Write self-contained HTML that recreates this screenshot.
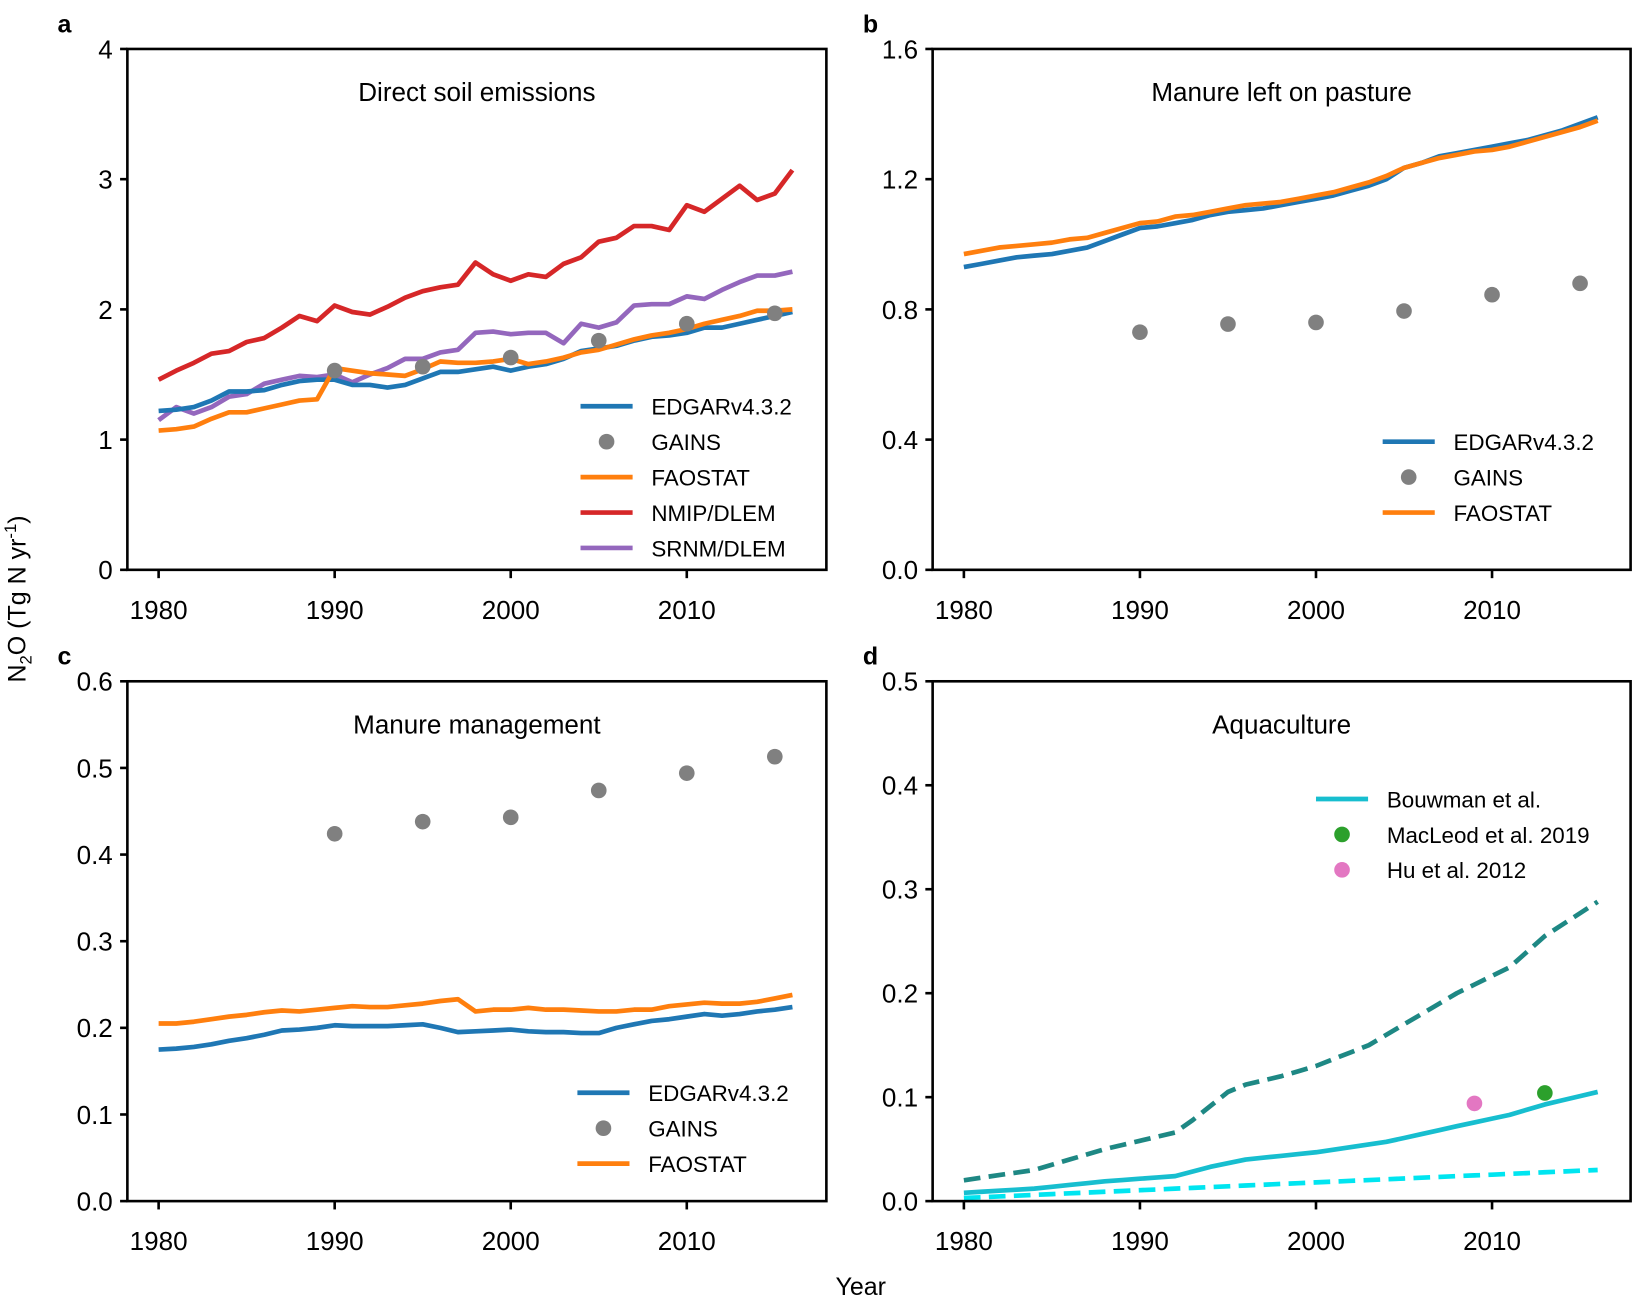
<!DOCTYPE html>
<html><head><meta charset="utf-8"><style>
html,body{margin:0;padding:0;background:#fff}
svg{display:block;font-family:"Liberation Sans",Arial,sans-serif}
</style></head><body>
<svg id="s" width="1634" height="1298" viewBox="0 0 1568 1246" xmlns="http://www.w3.org/2000/svg"></svg>
<script>
const S=document.getElementById('s');let h='';
function interp(kp){const out=[];for(let y=1980;y<=2016;y++){for(let i=0;i<kp.length-1;i++){const[a,va]=kp[i],[b,vb]=kp[i+1];if(y>=a&&y<=b){out.push(va+(vb-va)*(y-a)/(b-a));break;}}}return out;}
function panel(p){
 const{x0,x1,y0,y1,ymax,yt,fmt}=p;
 const X=yr=>x0+30+(yr-1980)*16.9, Y=v=>y1-(v/ymax)*(y1-y0);
 p.series.forEach(s=>{let d='';s.v.forEach((v,i)=>{d+=(i?'L':'M')+X(1980+i).toFixed(1)+' '+Y(v).toFixed(1)});
  h+=`<path d="${d}" fill="none" stroke="${s.c}" stroke-width="4.5" stroke-linejoin="round" ${s.dash?'stroke-dasharray="16 8"':''}/>`;});
 (p.pts||[]).forEach(s=>s.v.forEach(([yr,v])=>{h+=`<circle cx="${X(yr)}" cy="${Y(v)}" r="7.5" fill="${s.c}"/>`}));
 h+=`<rect x="${x0}" y="${y0}" width="${x1-x0}" height="${y1-y0}" fill="none" stroke="#000" stroke-width="2.5"/>`;
 yt.forEach(v=>{const y=Y(v);h+=`<line x1="${x0-7}" x2="${x0}" y1="${y}" y2="${y}" stroke="#000" stroke-width="2.5"/><text x="${x0-14}" y="${y+9}" font-size="25" text-anchor="end">${fmt(v)}</text>`});
 [1980,1990,2000,2010].forEach(yr=>{const x=X(yr);h+=`<line x1="${x}" x2="${x}" y1="${y1}" y2="${y1+8}" stroke="#000" stroke-width="2.5"/><text x="${x}" y="${y1+47}" font-size="25" text-anchor="middle">${yr}</text>`});
 h+=`<text x="${(x0+x1)/2}" y="${y0+50}" font-size="25" text-anchor="middle">${p.title}</text>`;
 h+=`<text x="${x0-67}" y="${y0-16}" font-size="24" font-weight="bold">${p.letter}</text>`;
 p.leg.rows.forEach((r,i)=>{const y=p.leg.y+i*34;if(r.pt)h+=`<circle cx="${p.leg.x+25}" cy="${y}" r="7.5" fill="${r.c}"/>`;else h+=`<line x1="${p.leg.x}" x2="${p.leg.x+50}" y1="${y}" y2="${y}" stroke="${r.c}" stroke-width="4.5"/>`;h+=`<text x="${p.leg.x+68}" y="${y+8}" font-size="21.5">${r.t}</text>`});
}
const B='#1f77b4',O='#ff7f0e',R='#d62728',P='#9467bd',G='#808080';
panel({x0:122,x1:793,y0:47,y1:547,ymax:4,yt:[0,1,2,3,4],fmt:v=>v,title:'Direct soil emissions',letter:'a',
 series:[
 {c:R,v:[1.46,1.53,1.59,1.66,1.68,1.75,1.78,1.86,1.95,1.91,2.03,1.98,1.96,2.02,2.09,2.14,2.17,2.19,2.36,2.27,2.22,2.27,2.25,2.35,2.40,2.52,2.55,2.64,2.64,2.61,2.80,2.75,2.85,2.95,2.84,2.89,3.07]},
 {c:P,v:[1.15,1.25,1.20,1.25,1.33,1.35,1.43,1.46,1.49,1.48,1.50,1.44,1.50,1.55,1.62,1.62,1.67,1.69,1.82,1.83,1.81,1.82,1.82,1.74,1.89,1.86,1.90,2.03,2.04,2.04,2.10,2.08,2.15,2.21,2.26,2.26,2.29]},
 {c:B,v:[1.22,1.23,1.25,1.3,1.37,1.37,1.38,1.42,1.45,1.46,1.46,1.42,1.42,1.40,1.42,1.47,1.52,1.52,1.54,1.56,1.53,1.56,1.58,1.62,1.68,1.70,1.72,1.76,1.79,1.80,1.82,1.86,1.86,1.89,1.92,1.95,1.98]},
 {c:O,v:[1.07,1.08,1.10,1.16,1.21,1.21,1.24,1.27,1.30,1.31,1.55,1.53,1.51,1.50,1.49,1.54,1.60,1.59,1.59,1.60,1.62,1.58,1.60,1.63,1.67,1.69,1.73,1.77,1.80,1.82,1.85,1.89,1.92,1.95,1.99,1.99,2.0]}],
 pts:[{c:G,v:[[1990,1.53],[1995,1.56],[2000,1.63],[2005,1.76],[2010,1.89],[2015,1.97]]}],
 leg:{x:557,y:390,rows:[{c:B,t:'EDGARv4.3.2'},{c:G,t:'GAINS',pt:1},{c:O,t:'FAOSTAT'},{c:R,t:'NMIP/DLEM'},{c:P,t:'SRNM/DLEM'}]}});
panel({x0:895,x1:1565,y0:47,y1:547,ymax:1.6,yt:[0,0.4,0.8,1.2,1.6],fmt:v=>v.toFixed(1),title:'Manure left on pasture',letter:'b',
 series:[
 {c:B,v:[0.93,0.94,0.95,0.96,0.965,0.97,0.98,0.99,1.01,1.03,1.05,1.055,1.065,1.075,1.09,1.10,1.105,1.11,1.12,1.13,1.14,1.15,1.165,1.18,1.20,1.235,1.25,1.27,1.28,1.29,1.30,1.31,1.32,1.335,1.35,1.37,1.39]},
 {c:O,v:[0.97,0.98,0.99,0.995,1.0,1.005,1.015,1.02,1.035,1.05,1.065,1.07,1.085,1.09,1.10,1.11,1.12,1.125,1.13,1.14,1.15,1.16,1.175,1.19,1.21,1.235,1.25,1.265,1.275,1.285,1.29,1.30,1.315,1.33,1.345,1.36,1.38]}],
 pts:[{c:G,v:[[1990,0.73],[1995,0.755],[2000,0.76],[2005,0.795],[2010,0.845],[2015,0.88]]}],
 leg:{x:1327,y:424,rows:[{c:B,t:'EDGARv4.3.2'},{c:G,t:'GAINS',pt:1},{c:O,t:'FAOSTAT'}]}});
panel({x0:122,x1:793,y0:654,y1:1153,ymax:0.6,yt:[0,0.1,0.2,0.3,0.4,0.5,0.6],fmt:v=>v.toFixed(1),title:'Manure management',letter:'c',
 series:[
 {c:B,v:[.175,.176,.178,.181,.185,.188,.192,.197,.198,.200,.203,.202,.202,.202,.203,.204,.200,.195,.196,.197,.198,.196,.195,.195,.194,.194,.200,.204,.208,.210,.213,.216,.214,.216,.219,.221,.224]},
 {c:O,v:[.205,.205,.207,.210,.213,.215,.218,.220,.219,.221,.223,.225,.224,.224,.226,.228,.231,.233,.219,.221,.221,.223,.221,.221,.220,.219,.219,.221,.221,.225,.227,.229,.228,.228,.230,.234,.238]}],
 pts:[{c:G,v:[[1990,0.424],[1995,0.438],[2000,0.443],[2005,0.474],[2010,0.494],[2015,0.513]]}],
 leg:{x:554,y:1049,rows:[{c:B,t:'EDGARv4.3.2'},{c:G,t:'GAINS',pt:1},{c:O,t:'FAOSTAT'}]}});
panel({x0:895,x1:1565,y0:654,y1:1153,ymax:0.5,yt:[0,0.1,0.2,0.3,0.4,0.5],fmt:v=>v.toFixed(1),title:'Aquaculture',letter:'d',
 series:[
 {c:'#1e8884',dash:1,v:interp([[1980,.02],[1984,.03],[1988,.05],[1990,.058],[1992,.066],[1993,.078],[1995,.105],[1996,.112],[1998,.12],[2000,.13],[2003,.15],[2008,.2],[2011,.225],[2013,.255],[2016,.288]])},
 {c:'#00e5f0',dash:1,v:interp([[1980,.003],[2016,.03]])},
 {c:'#17becf',v:interp([[1980,.008],[1984,.012],[1988,.019],[1992,.024],[1994,.033],[1996,.04],[2000,.047],[2004,.057],[2008,.072],[2011,.083],[2013,.093],[2016,.105]])}],
 pts:[{c:'#2ca02c',v:[[2013,0.104]]},{c:'#e377c2',v:[[2009,0.094]]}],
 leg:{x:1263,y:767,rows:[{c:'#17becf',t:'Bouwman et al.'},{c:'#2ca02c',t:'MacLeod et al. 2019',pt:1},{c:'#e377c2',t:'Hu et al. 2012',pt:1}]}});
h+=`<text transform="translate(24,575) rotate(-90)" font-size="24" text-anchor="middle">N<tspan font-size="16" dy="6">2</tspan><tspan dy="-6">O (Tg N yr</tspan><tspan font-size="16" dy="-9">-1</tspan><tspan dy="9">)</tspan></text>`;
h+=`<text x="826" y="1243" font-size="24" text-anchor="middle">Year</text>`;
S.innerHTML=h;
</script>
</body></html>
